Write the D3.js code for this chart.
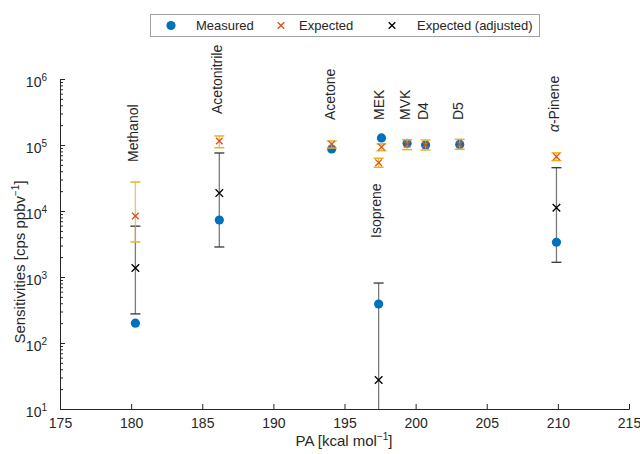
<!DOCTYPE html>
<html>
<head>
<meta charset="utf-8">
<script src="https://cdn.jsdelivr.net/npm/d3@7"></script>
<style>
  body { margin: 0; background: #fff; }
  text { font-family: "Liberation Sans", Arial, sans-serif; fill: #262626; }
</style>
</head>
<body>
<div id="chart"></div>
<script>
// compounds and their proton affinity [kcal/mol]
var names = ["Methanol", "Acetonitrile", "Acetone", "MEK", "Isoprene", "MVK", "D4", "D5", "α-Pinene"];
var pa = [180.3, 186.2, 194.1, 197.6, 197.4, 199.4, 200.7, 203.1, 209.9];

// sensitivities [cps/ppbv]
var measured = [200, 7300, 87000, 128000, 390, 106000, 100000, 102000, 3360];
var expected = [8400, 115000, 103000, 93000, 54000, 103000, 100000, 102000, 66500];
var expLow   = [3400, 91000, 90000, 82000, 46000, 85000, 84000, 86000, 58000];
var expHigh  = [27500, 137000, 115000, 104000, 63000, 120000, 119000, 122000, 76000];
var adjusted = [1370, 18700, null, null, 27.5, null, null, null, 11200];
var adjLow   = [276, 2850, null, null, 1, null, null, null, 1670];
var adjHigh  = [5900, 75700, null, null, 810, null, null, null, 45300];

// where each compound label starts (in sensitivity units)
var labelAt = [55200, 295000, 239000, 239000, 3900, 239000, 239000, 239000, 157000];

var xTicks = [175, 180, 185, 190, 195, 200, 205, 210, 215];
var yTicks = [1e1, 1e2, 1e3, 1e4, 1e5, 1e6];

var W = 640, H = 454;
var svg = d3.select("#chart").append("svg")
  .attr("width", W).attr("height", H);

var x = d3.scaleLinear().domain([175, 215]).range([60, 629]);
var y = d3.scaleLog().domain([10, 1e6]).range([409, 79]);

var axisColor = "#262626";

// clip for the data
svg.append("clipPath").attr("id", "clip")
  .append("rect").attr("x", 60).attr("y", 79).attr("width", 569).attr("height", 330);

// x axis
var gx = svg.append("g")
  .attr("transform", "translate(0,409)")
  .call(d3.axisBottom(x).tickValues(xTicks).tickSize(-5).tickPadding(9).tickFormat(d3.format("d")));
gx.select(".domain").attr("stroke", axisColor);
gx.selectAll(".tick line").attr("stroke", axisColor);
gx.selectAll(".tick text").style("font-size", "14px").attr("fill", axisColor);

// y axis, minor ticks first
var minor = [];
for (var e = 1; e < 6; e++) for (var m = 2; m <= 9; m++) minor.push(m * Math.pow(10, e));
var gym = svg.append("g")
  .attr("transform", "translate(60,0)")
  .call(d3.axisLeft(y).tickValues(minor).tickSize(-3).tickFormat(""));
gym.select(".domain").remove();
gym.selectAll(".tick line").attr("stroke", axisColor);

var gy = svg.append("g")
  .attr("transform", "translate(60,0)")
  .call(d3.axisLeft(y).tickValues(yTicks).tickSize(-5).tickPadding(13).tickFormat(""));
gy.select(".domain").attr("stroke", axisColor);
gy.selectAll(".tick line").attr("stroke", axisColor);
gy.selectAll(".tick text").each(function(d) {
  var t = d3.select(this).style("font-size", "14px").attr("fill", axisColor).attr("dy", "0.5em");
  t.append("tspan").text("10");
  t.append("tspan").attr("dy", "-0.55em").style("font-size", "10px").text(Math.round(Math.log10(d)));
});

// axis titles
var xl = svg.append("text")
  .attr("x", 344).attr("y", 446)
  .attr("text-anchor", "middle")
  .style("font-size", "15px");
xl.append("tspan").text("PA [kcal mol");
xl.append("tspan").attr("dy", "-6").style("font-size", "10px").text("−1");
xl.append("tspan").attr("dy", "6").text("]");

var yl = svg.append("text")
  .attr("transform", "translate(25,262) rotate(-90)")
  .attr("text-anchor", "middle")
  .style("font-size", "15px");
yl.append("tspan").text("Sensitivities [cps ppbv");
yl.append("tspan").attr("dy", "-6").style("font-size", "10px").text("−1");
yl.append("tspan").attr("dy", "6").text("]");

var idx = d3.range(names.length);
var plot = svg.append("g").attr("clip-path", "url(#clip)");
var cap = 5;

function xMark(g, cx, cy, color, r) {
  g.append("path")
    .attr("d", "M" + (cx - r) + "," + (cy - r) + "L" + (cx + r) + "," + (cy + r) +
               "M" + (cx - r) + "," + (cy + r) + "L" + (cx + r) + "," + (cy - r))
    .attr("stroke", color).attr("stroke-width", 1.3).attr("fill", "none");
}

// adjusted error bars
var adjIdx = idx.filter(function(i) { return adjusted[i] != null; });
adjIdx.forEach(function(i) {
  var cx = x(pa[i]);
  plot.append("line").attr("x1", cx).attr("x2", cx)
    .attr("y1", y(adjLow[i])).attr("y2", y(adjHigh[i]))
    .attr("stroke", "#7a7a7a").attr("stroke-width", 1.3);
  [adjLow[i], adjHigh[i]].forEach(function(v) {
    plot.append("line").attr("x1", cx - cap).attr("x2", cx + cap)
      .attr("y1", y(v)).attr("y2", y(v))
      .attr("stroke", "#333").attr("stroke-width", 1.3);
  });
});

// measured
plot.selectAll("circle.meas").data(idx).enter().append("circle")
  .attr("cx", function(i) { return x(pa[i]); })
  .attr("cy", function(i) { return y(measured[i]); })
  .attr("r", 4.6)
  .attr("fill", "#0072BD");

// expected error bars
idx.forEach(function(i) {
  var cx = x(pa[i]);
  plot.append("line").attr("x1", cx).attr("x2", cx)
    .attr("y1", y(expLow[i])).attr("y2", y(expHigh[i]))
    .attr("stroke", "#EDB120").attr("stroke-opacity", 0.75).attr("stroke-width", 1.3);
  [expLow[i], expHigh[i]].forEach(function(v) {
    plot.append("line").attr("x1", cx - cap).attr("x2", cx + cap)
      .attr("y1", y(v)).attr("y2", y(v))
      .attr("stroke", "#EDB120").attr("stroke-width", 1.5);
  });
  xMark(plot, cx, y(expected[i]), "#D95319", 3.3);
});

adjIdx.forEach(function(i) {
  xMark(plot, x(pa[i]), y(adjusted[i]), "#000", 3.8);
});

// compound labels
idx.forEach(function(i) {
  var t = svg.append("text")
    .attr("transform", "translate(" + x(pa[i]) + "," + y(labelAt[i]) + ") rotate(-90)")
    .attr("dy", "0.2em")
    .style("font-size", "14px")
    .attr("fill", "#000");
  if (names[i].charAt(0) === "α") {
    t.append("tspan").style("font-style", "italic").text("α");
    t.append("tspan").text(names[i].slice(1));
  } else {
    t.text(names[i]);
  }
});

// legend
var lg = svg.append("g");
lg.append("rect").attr("x", 150.5).attr("y", 14.5).attr("width", 389).attr("height", 22)
  .attr("fill", "#fff").attr("stroke", "#a0a0a0");
lg.append("circle").attr("cx", 171).attr("cy", 25.5).attr("r", 4.6).attr("fill", "#0072BD");
lg.append("text").attr("x", 196).attr("y", 30).style("font-size", "13px").attr("fill", "#000").text("Measured");
xMark(lg, 281, 25.5, "#D95319", 3.3);
lg.append("text").attr("x", 299).attr("y", 30).style("font-size", "13px").attr("fill", "#000").text("Expected");
xMark(lg, 392, 25.5, "#000", 3.3);
lg.append("text").attr("x", 417).attr("y", 30).style("font-size", "13px").attr("fill", "#000").text("Expected (adjusted)");
</script>
</body>
</html>
